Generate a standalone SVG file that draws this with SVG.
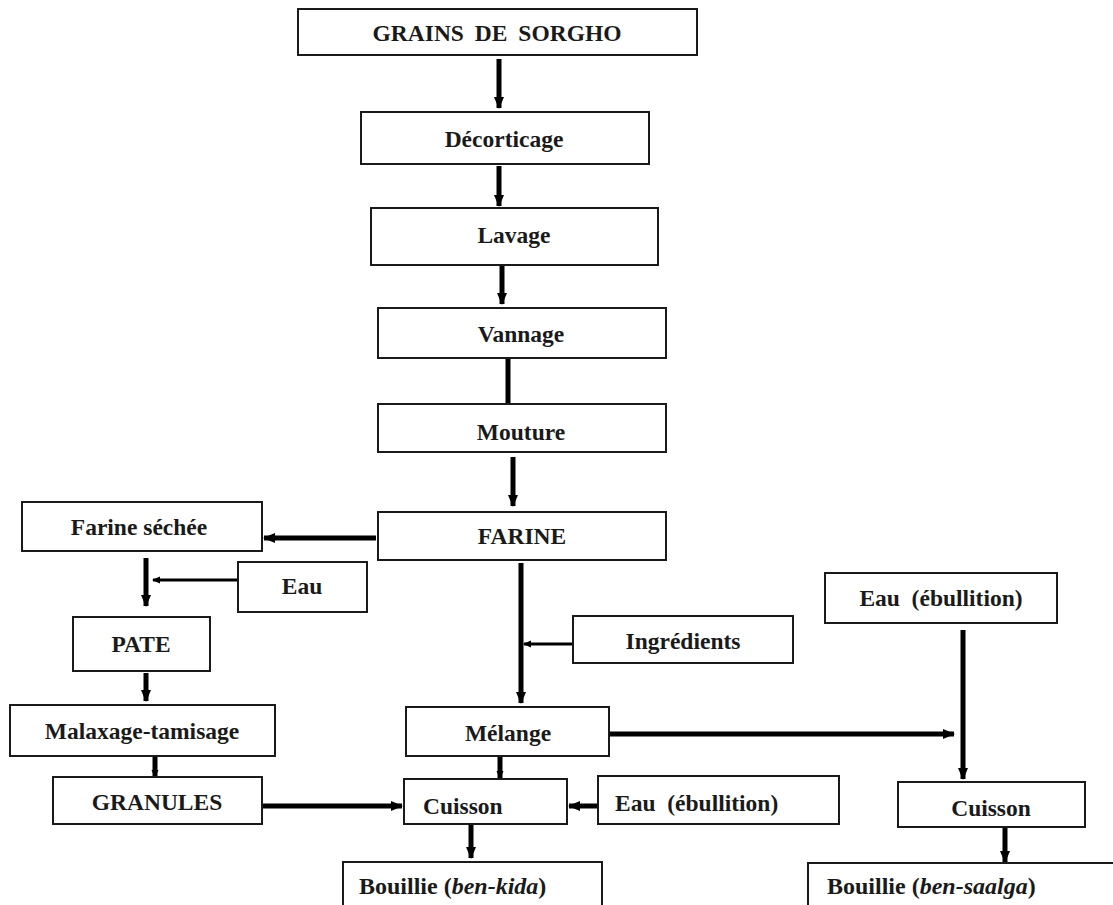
<svg xmlns="http://www.w3.org/2000/svg" width="1113" height="905" viewBox="0 0 1113 905">
<style>
.box{fill:#fff;stroke:#1a1a1a;stroke-width:2}
.t{font-family:"Liberation Serif","Times New Roman",serif;font-weight:bold;font-size:23.5px;fill:#1a1a1a;text-anchor:middle}
.l{text-anchor:start}
.b{font-size:24px}
.thick{stroke:#000;stroke-width:5;fill:none}
.thin{stroke:#000;stroke-width:3;fill:none}
</style>
<defs>
<marker id="ah" markerUnits="userSpaceOnUse" markerWidth="12" markerHeight="12" viewBox="0 0 12 12" refX="11" refY="6" orient="auto">
<path d="M0,1 L12,6 L0,11 Z" fill="#000"/>
</marker>
<marker id="ahs" markerUnits="userSpaceOnUse" markerWidth="8" markerHeight="8" viewBox="0 0 8 8" refX="7" refY="4" orient="auto">
<path d="M0,0.5 L8,4 L0,7.5 Z" fill="#000"/>
</marker>
</defs>
<rect width="1113" height="905" fill="#fff"/>
<g id="connectors">
<line class="thick" x1="499" y1="59" x2="499" y2="108" marker-end="url(#ah)"/>
<line class="thick" x1="499" y1="166" x2="499" y2="206" marker-end="url(#ah)"/>
<line class="thick" x1="502" y1="266" x2="502" y2="304" marker-end="url(#ah)"/>
<line class="thick" x1="508" y1="358" x2="508" y2="405"/>
<line class="thick" x1="513" y1="457" x2="513" y2="506" marker-end="url(#ah)"/>
<line class="thick" x1="376" y1="538" x2="264" y2="538" marker-end="url(#ah)"/>
<line class="thick" x1="146" y1="558" x2="146" y2="606" marker-end="url(#ah)"/>
<line class="thin" x1="237" y1="580" x2="153" y2="580" marker-end="url(#ahs)"/>
<line class="thick" x1="146" y1="673" x2="146" y2="701" marker-end="url(#ah)"/>
<line class="thick" x1="155" y1="757" x2="155" y2="777" marker-end="url(#ahs)"/>
<line class="thick" x1="263" y1="806" x2="402" y2="806" marker-end="url(#ah)"/>
<line class="thick" x1="521" y1="563" x2="521" y2="703" marker-end="url(#ah)"/>
<line class="thin" x1="572" y1="644" x2="524" y2="644" marker-end="url(#ahs)"/>
<line class="thick" x1="500" y1="757" x2="500" y2="778" marker-end="url(#ahs)"/>
<line class="thick" x1="597" y1="806" x2="569" y2="806" marker-end="url(#ah)"/>
<line class="thick" x1="471" y1="825" x2="471" y2="858" marker-end="url(#ah)"/>
<line class="thick" x1="610" y1="734" x2="954" y2="734" marker-end="url(#ah)"/>
<line class="thick" x1="963" y1="630" x2="963" y2="779" marker-end="url(#ah)"/>
<line class="thick" x1="1005" y1="828" x2="1005" y2="862" marker-end="url(#ah)"/>
</g>
<g id="grains"><rect class="box" x="298" y="9" width="399" height="46"/><text class="t" x="497" y="41" word-spacing="5">GRAINS DE SORGHO</text></g>
<g id="decorticage"><rect class="box" x="361" y="112" width="288" height="52"/><text class="t" x="504" y="147">Décorticage</text></g>
<g id="lavage"><rect class="box" x="371" y="208" width="287" height="57"/><text class="t" x="514" y="243">Lavage</text></g>
<g id="vannage"><rect class="box" x="378" y="308" width="288" height="50"/><text class="t" x="521" y="342">Vannage</text></g>
<g id="mouture"><rect class="box" x="378" y="404" width="288" height="48"/><text class="t" x="521" y="440">Mouture</text></g>
<g id="farine"><rect class="box" x="378" y="512" width="288" height="48"/><text class="t" x="522" y="544">FARINE</text></g>
<g id="farine-sechee"><rect class="box" x="22" y="502" width="240" height="49"/><text class="t" x="139" y="535">Farine séchée</text></g>
<g id="eau1"><rect class="box" x="238" y="562" width="129" height="50"/><text class="t" x="302" y="594">Eau</text></g>
<g id="pate"><rect class="box" x="73" y="617" width="137" height="54"/><text class="t" x="141" y="652">PATE</text></g>
<g id="malaxage"><rect class="box" x="10" y="705" width="265" height="51"/><text class="t" x="142" y="739">Malaxage-tamisage</text></g>
<g id="granules"><rect class="box" x="53" y="777" width="209" height="47"/><text class="t" x="157" y="810">GRANULES</text></g>
<g id="ingredients"><rect class="box" x="573" y="616" width="220" height="47"/><text class="t" x="683" y="649">Ingrédients</text></g>
<g id="melange"><rect class="box" x="406" y="707" width="203" height="49"/><text class="t" x="508" y="741">Mélange</text></g>
<g id="cuisson1"><rect class="box" x="404" y="779" width="163" height="45"/><text class="t l" x="423" y="814">Cuisson</text></g>
<g id="eau2"><rect class="box" x="598" y="776" width="241" height="48"/><text class="t l" x="615" y="811" xml:space="preserve">Eau  (ébullition)</text></g>
<g id="bouillie1"><rect class="box" x="343" y="862" width="259" height="50"/><text class="t l b" x="359" y="894">Bouillie (<tspan font-style="italic">ben-kida</tspan>)</text></g>
<g id="eau3"><rect class="box" x="825" y="573" width="232" height="50"/><text class="t" x="941" y="606" xml:space="preserve">Eau  (ébullition)</text></g>
<g id="cuisson2"><rect class="box" x="898" y="782" width="187" height="45"/><text class="t" x="991" y="816">Cuisson</text></g>
<g id="bouillie2"><rect class="box" x="808" y="863" width="320" height="50"/><text class="t l b" x="827" y="894">Bouillie (<tspan font-style="italic">ben-saalga</tspan>)</text></g>
</svg>
